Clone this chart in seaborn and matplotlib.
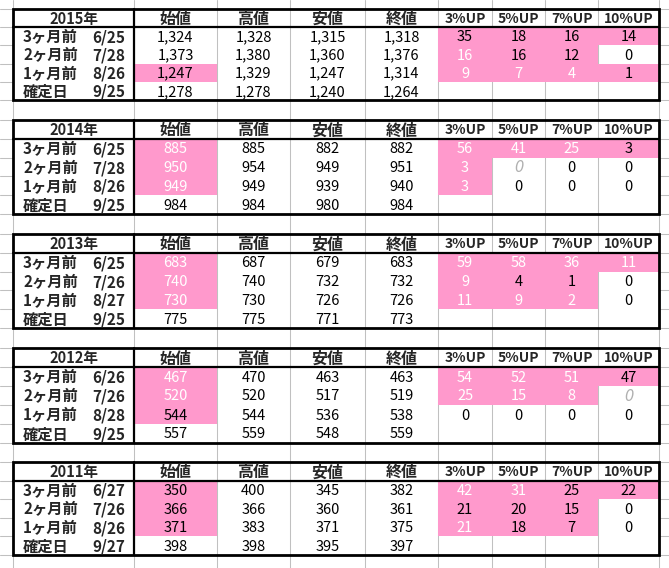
import matplotlib
matplotlib.use("Agg")
import matplotlib.pyplot as plt
from matplotlib.patches import Rectangle
import seaborn as sns

sns.set_theme(style="white")
plt.rcParams['font.family'] = ['Noto Sans CJK JP', 'DejaVu Sans']

# ---------------- data ----------------
years = ['2015年', '2014年', '2013年', '2012年', '2011年']
row_labels = ['3ヶ月前', '2ヶ月前', '1ヶ月前', '確定日']
price_headers = ['始値', '高値', '安値', '終値']
up_headers = ['3%UP', '5%UP', '7%UP', '10%UP']

dates_2015 = ['6/25', '7/28', '8/26', '9/25']
dates_2014 = ['6/25', '7/28', '8/26', '9/25']
dates_2013 = ['6/25', '7/26', '8/27', '9/25']
dates_2012 = ['6/26', '7/26', '8/28', '9/25']
dates_2011 = ['6/27', '7/26', '8/26', '9/27']

# columns: 始値, 高値, 安値, 終値 (rows: 3ヶ月前, 2ヶ月前, 1ヶ月前, 確定日)
open_2015 = [1324, 1373, 1247, 1278]
high_2015 = [1328, 1380, 1329, 1278]
low_2015 = [1315, 1360, 1247, 1240]
close_2015 = [1318, 1376, 1314, 1264]

open_2014 = [885, 950, 949, 984]
high_2014 = [885, 954, 949, 984]
low_2014 = [882, 949, 939, 980]
close_2014 = [882, 951, 940, 984]

open_2013 = [683, 740, 730, 775]
high_2013 = [687, 740, 730, 775]
low_2013 = [679, 732, 726, 771]
close_2013 = [683, 732, 726, 773]

open_2012 = [467, 520, 544, 557]
high_2012 = [470, 520, 544, 559]
low_2012 = [463, 517, 536, 548]
close_2012 = [463, 519, 538, 559]

open_2011 = [350, 366, 371, 398]
high_2011 = [400, 366, 383, 398]
low_2011 = [345, 360, 371, 395]
close_2011 = [382, 361, 375, 397]

# UP counts (rows: 3ヶ月前, 2ヶ月前, 1ヶ月前)
up_2015 = [[35, 18, 16, 14], [16, 16, 12, 0], [9, 7, 4, 1]]
up_2014 = [[56, 41, 25, 3], [3, 0, 0, 0], [3, 0, 0, 0]]
up_2013 = [[59, 58, 36, 11], [9, 4, 1, 0], [11, 9, 2, 0]]
up_2012 = [[54, 52, 51, 47], [25, 15, 8, 0], [0, 0, 0, 0]]
up_2011 = [[42, 31, 25, 22], [21, 20, 15, 0], [21, 18, 7, 0]]

# cell marks: 'p' pink/black text, 'w' pink/white text, '.' plain, 'g' grey italic
open_mark_2015 = ['.', '.', 'p', '.']
open_mark_2014 = ['w', 'w', 'w', '.']
open_mark_2013 = ['w', 'w', 'w', '.']
open_mark_2012 = ['w', 'w', 'p', '.']
open_mark_2011 = ['p', 'p', 'p', '.']

up_mark_2015 = ['pppp', 'wpp.', 'wwwp']
up_mark_2014 = ['wwwp', 'wg..', 'w...']
up_mark_2013 = ['wwww', 'wpp.', 'www.']
up_mark_2012 = ['wwwp', 'wwwg', '....']
up_mark_2011 = ['wwpp', 'ppp.', 'wpp.']

tables = [
    (years[0], dates_2015, [open_2015, high_2015, low_2015, close_2015], up_2015, open_mark_2015, up_mark_2015),
    (years[1], dates_2014, [open_2014, high_2014, low_2014, close_2014], up_2014, open_mark_2014, up_mark_2014),
    (years[2], dates_2013, [open_2013, high_2013, low_2013, close_2013], up_2013, open_mark_2013, up_mark_2013),
    (years[3], dates_2012, [open_2012, high_2012, low_2012, close_2012], up_2012, open_mark_2012, up_mark_2012),
    (years[4], dates_2011, [open_2011, high_2011, low_2011, close_2011], up_2011, open_mark_2011, up_mark_2011),
]

# ---------------- layout ----------------
W, H = 669, 568
col_x = [13, 134, 217, 290, 365, 438, 492, 545, 598, 659]
table_top = [9, 120, 234, 348, 462]
table_bot = [100, 214, 328, 443, 555]
PINK = '#FF99CC'
GRID = '#C0C0C0'

fig = plt.figure(figsize=(W / 100, H / 100), dpi=100)
ax = fig.add_axes([0, 0, 1, 1])
ax.set_xlim(0, W)
ax.set_ylim(H, 0)
ax.axis('off')
ax.add_patch(Rectangle((0, 0), W, H, facecolor='white', edgecolor='none', zorder=0))

# horizontal grid lines at every row boundary (outside tables visible)
for t, b in zip(table_top, table_bot):
    h = (b - t) / 5
    for i in range(6):
        ax.plot([0, W], [t + i * h] * 2, color=GRID, lw=0.75, zorder=1)
    ax.add_patch(Rectangle((col_x[0], t), col_x[-1] - col_x[0], b - t,
                           facecolor='white', edgecolor='none', zorder=2))
# vertical grid lines
for x in col_x:
    ax.plot([x, x], [0, H], color=GRID, lw=0.75, zorder=3)

fs = 10.5
for (year, dates, prices, ups, omark, umark), t, b in zip(tables, table_top, table_bot):
    h = (b - t) / 5
    yc = [t + (i + 0.5) * h + 1 for i in range(5)]
    # pink fills
    for r, m in enumerate(omark):
        if m in 'pw':
            ax.add_patch(Rectangle((col_x[1], t + (r + 1) * h), col_x[2] - col_x[1], h,
                                   facecolor=PINK, edgecolor='none', zorder=4))
    for r, row in enumerate(umark):
        for c, m in enumerate(row):
            if m in 'pw':
                ax.add_patch(Rectangle((col_x[5 + c], t + (r + 1) * h), col_x[6 + c] - col_x[5 + c], h,
                                       facecolor=PINK, edgecolor='none', zorder=4))
    # borders
    ax.add_patch(Rectangle((col_x[0], t), col_x[-1] - col_x[0], b - t,
                           facecolor='none', edgecolor='black', lw=2.0, zorder=6))
    ax.plot([col_x[0], col_x[-1]], [t + h] * 2, color='black', lw=1.6, zorder=6)
    ax.plot([col_x[1]] * 2, [t, b], color='black', lw=1.6, zorder=6)
    # header
    ax.text((col_x[0] + col_x[1]) / 2, yc[0], year, ha='center', va='center',
            fontsize=fs, fontweight='bold', zorder=7)
    for j, lab in enumerate(price_headers):
        ax.text((col_x[1 + j] + col_x[2 + j]) / 2, yc[0], lab, ha='center', va='center',
                fontsize=fs + 1, fontweight='bold', zorder=7)
    for j, lab in enumerate(up_headers):
        ax.text((col_x[5 + j] + col_x[6 + j]) / 2, yc[0], lab, ha='center', va='center',
                fontsize=fs - 0.5, fontweight='bold', zorder=7)
    # rows
    for r in range(4):
        ax.text(23, yc[r + 1], row_labels[r], ha='left', va='center',
                fontsize=fs + 0.5, fontweight='bold', zorder=7)
        ax.text(125, yc[r + 1], dates[r], ha='right', va='center',
                fontsize=fs + 0.5, fontweight='bold', zorder=7)
        for j in range(4):
            color = 'black'
            if j == 0 and omark[r] == 'w':
                color = 'white'
            ax.text((col_x[1 + j] + col_x[2 + j]) / 2, yc[r + 1], f"{prices[j][r]:,}",
                    ha='center', va='center', fontsize=fs, color=color, zorder=7)
    for r in range(3):
        for c in range(4):
            m = umark[r][c]
            kw = dict(ha='center', va='center', fontsize=fs, zorder=7)
            if m == 'w':
                kw['color'] = 'white'
            elif m == 'g':
                kw['color'] = '#B0B0B0'
                kw['style'] = 'italic'
                kw['family'] = ['DejaVu Sans']
            else:
                kw['color'] = 'black'
            ax.text((col_x[5 + c] + col_x[6 + c]) / 2, yc[r + 1], str(ups[r][c]), **kw)

fig.savefig('out.png', dpi=100)
